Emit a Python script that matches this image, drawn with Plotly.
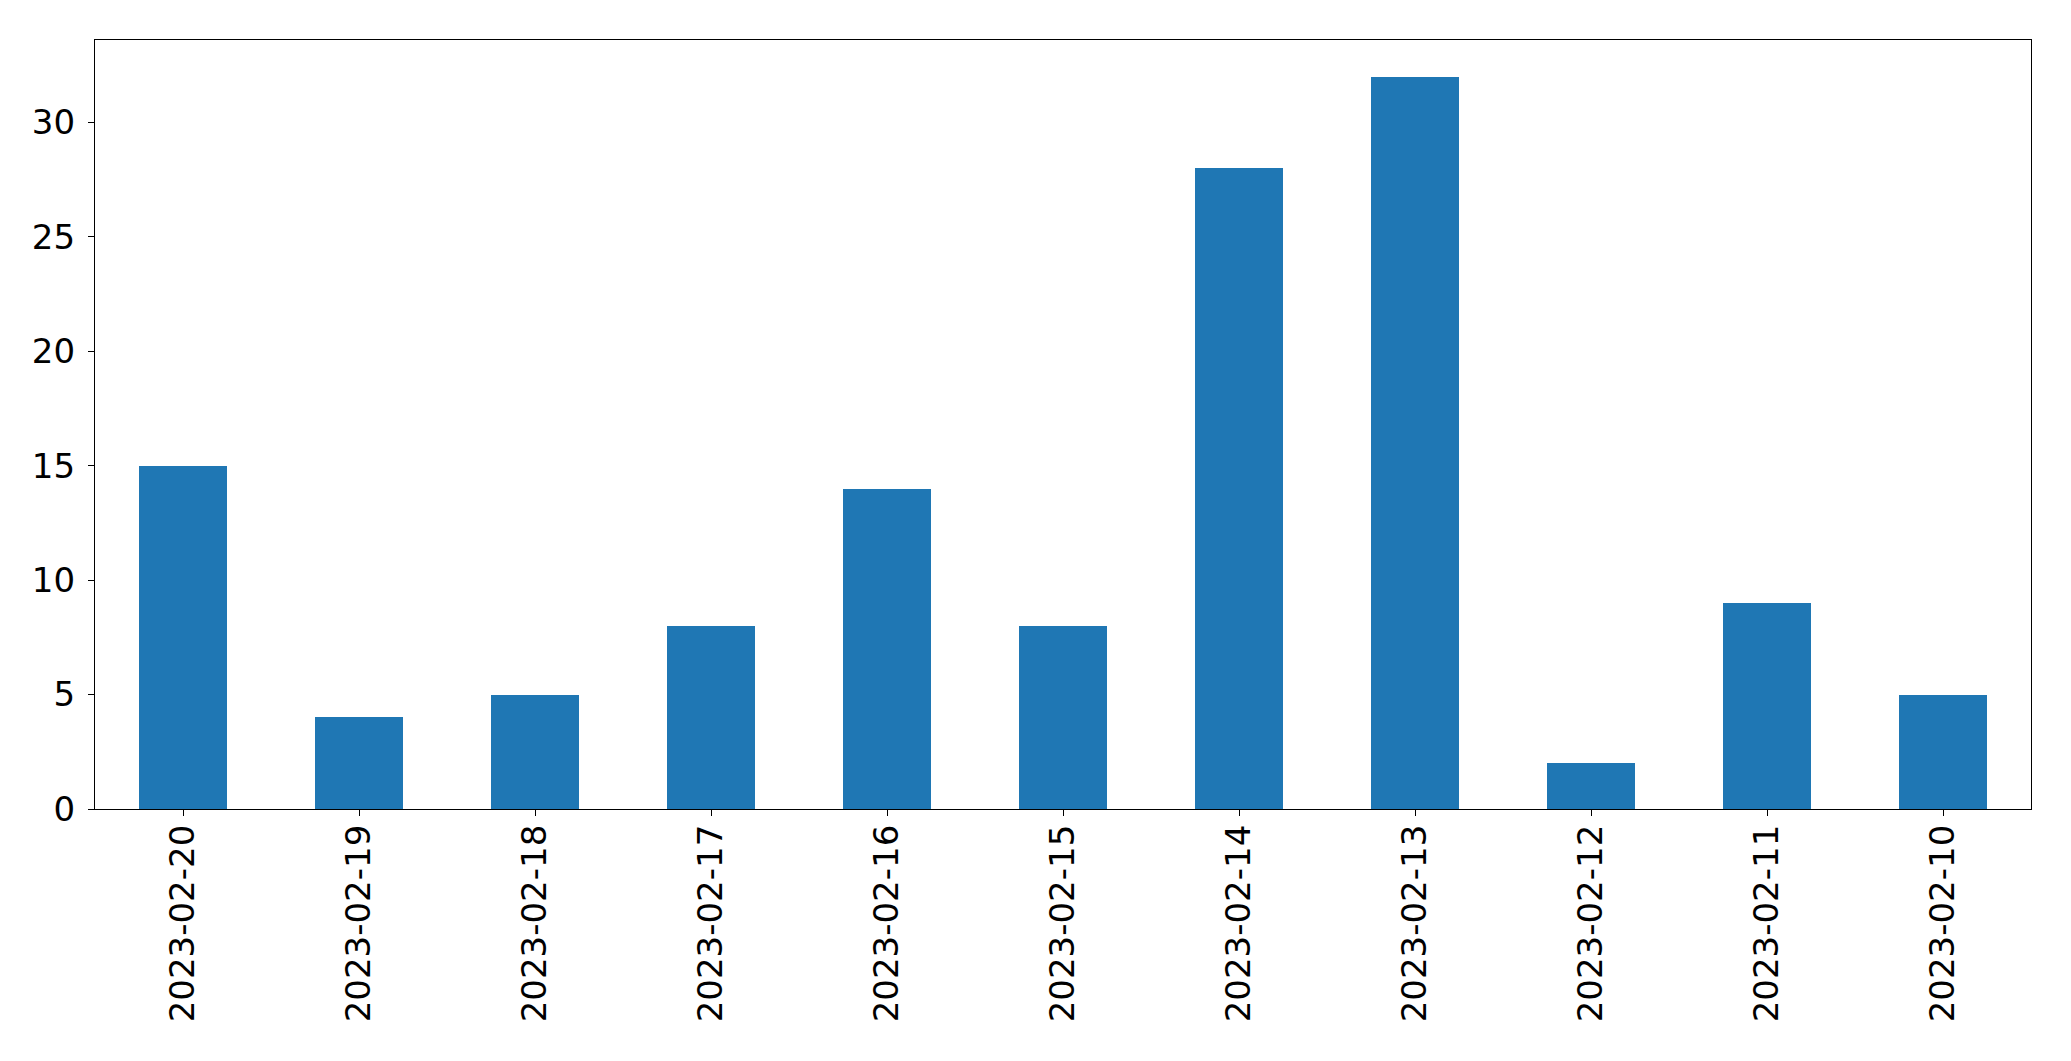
import plotly.graph_objects as go

dates = ["2023-02-20", "2023-02-19", "2023-02-18", "2023-02-17", "2023-02-16",
         "2023-02-15", "2023-02-14", "2023-02-13", "2023-02-12", "2023-02-11", "2023-02-10"]
counts = [15, 4, 5, 8, 14, 8, 28, 32, 2, 9, 5]
y_ticks = [0, 5, 10, 15, 20, 25, 30]

fig = go.Figure(go.Bar(x=list(range(len(dates))), y=counts, width=0.5,
                       marker=dict(color="#1f77b4", line=dict(width=0))))

font = dict(family="DejaVu Sans", size=34, color="black")
fig.update_layout(
    width=2071, height=1061,
    margin=dict(l=94.5, r=39.5, t=39.5, b=252, pad=0),
    plot_bgcolor="white", paper_bgcolor="white",
    showlegend=False, font=font, bargap=0,
)
fig.update_xaxes(
    range=[-0.5, len(dates) - 0.5], tickmode="array",
    tickvals=list(range(len(dates))), ticktext=dates, tickangle=-90,
    showline=True, linecolor="black", linewidth=1.3, mirror=True,
    ticks="outside", ticklen=6, tickwidth=1.3, tickcolor="black",
    showgrid=False, zeroline=False, tickfont=font, ticklabelstandoff=-5,
    automargin=False,
)
fig.update_yaxes(
    range=[0, max(counts) * 1.05], tickmode="array", tickvals=y_ticks,
    showline=True, linecolor="black", linewidth=1.3, mirror=True,
    ticks="outside", ticklen=6, tickwidth=1.3, tickcolor="black",
    showgrid=False, zeroline=False, tickfont=font, ticklabelstandoff=6,
    automargin=False,
)
fig.write_html("out.html", config={"displayModeBar": False},
               post_script="document.body.style.margin='0';document.body.style.overflow='hidden';")
